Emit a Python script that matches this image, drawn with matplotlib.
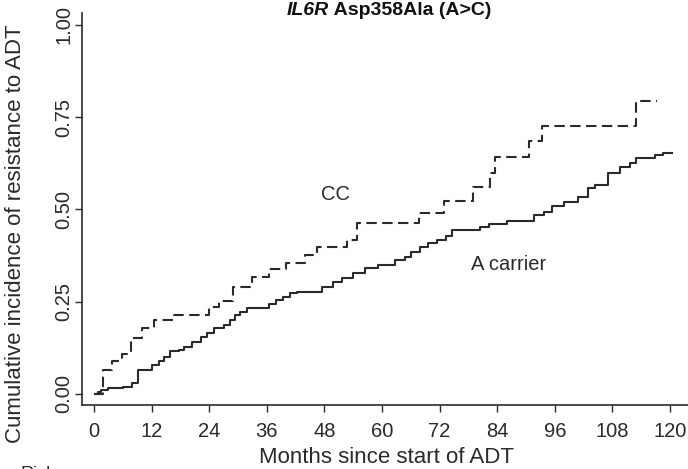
import matplotlib
matplotlib.use("Agg")
import matplotlib.pyplot as plt

# Cumulative incidence of resistance to ADT by IL6R Asp358Ala genotype
cc_months = [0, 1.9, 3.8, 5.8, 7.7, 10.0, 12.5, 16.5, 24.0, 26.0, 29.0, 33.0,
             36.5, 40.0, 44.0, 46.5, 52.7, 54.8, 67.7, 73.0, 79.0, 82.5, 83.5,
             90.6, 93.3, 113.0, 117.3]
cc_values = [0, 0.065, 0.089, 0.108, 0.152, 0.180, 0.200, 0.214, 0.235, 0.252,
             0.290, 0.317, 0.339, 0.355, 0.376, 0.398, 0.417, 0.463, 0.490,
             0.523, 0.560, 0.600, 0.642, 0.686, 0.726, 0.794, 0.794]

ac_months = [0.2, 0.8, 1.5, 3, 6, 8, 9.2, 12, 13.5, 14.5, 15.8, 17.7, 18.8,
             20.5, 22.3, 23.6, 25, 27, 28.4, 29.4, 30.5, 31.8, 36.5, 38, 39.4,
             40.8, 42.2, 47.5, 49.7, 51.7, 54, 56.5, 59.2, 62.7, 64.8, 66, 68,
             69.5, 71.5, 73.3, 74.6, 80.5, 82.3, 86, 91.7, 93.8, 95.5, 98,
             100.8, 102.9, 104.3, 107, 109.6, 111.7, 113, 116.9, 118.6, 120.4]
ac_values = [0, 0.006, 0.011, 0.015, 0.02, 0.03, 0.065, 0.079, 0.088, 0.10,
             0.115, 0.12, 0.128, 0.142, 0.154, 0.164, 0.178, 0.187, 0.2, 0.214,
             0.223, 0.232, 0.244, 0.255, 0.264, 0.273, 0.277, 0.291, 0.302,
             0.313, 0.327, 0.341, 0.35, 0.363, 0.372, 0.386, 0.399, 0.408,
             0.417, 0.428, 0.444, 0.452, 0.461, 0.47, 0.485, 0.494, 0.508,
             0.521, 0.535, 0.557, 0.566, 0.598, 0.614, 0.625, 0.639, 0.648,
             0.654, 0.654]

x_ticks = list(range(0, 121, 12))
y_ticks = [0.0, 0.25, 0.5, 0.75, 1.0]
y_tick_labels = ["0.00", "0.25", "0.50", "0.75", "1.00"]

plt.rcParams["font.family"] = ["Liberation Sans", "DejaVu Sans"]
ink = "#2a2a2a"

fig = plt.figure(figsize=(6.88, 4.69), dpi=100)
ax = fig.add_axes([0.1192, 0.1365, 0.8808, 0.8358])

ax.step(cc_months, cc_values, where="post", color=ink, lw=1.5,
        dashes=(5, 2.6))
ax.step(ac_months, ac_values, where="post", color=ink, lw=1.5)

ax.text(50.3, 0.54, "CC", fontsize=14.5, color=ink, ha="center", va="center")
ax.text(86.3, 0.35, "A carrier", fontsize=14.5, color=ink, ha="center", va="center")

ax.set_xlim(-2.5, 123.75)
ax.set_ylim(-0.03, 1.0325)
ax.set_xticks(x_ticks)
ax.set_yticks(y_ticks)
ax.set_yticklabels(y_tick_labels, rotation=90, va="center")
ax.tick_params(axis="both", length=5, width=1, color=ink, labelcolor=ink,
               labelsize=14.5)
ax.tick_params(axis="x", pad=7)
ax.tick_params(axis="y", pad=1)
for side in ("top", "right"):
    ax.spines[side].set_visible(False)
for side in ("left", "bottom"):
    ax.spines[side].set_color(ink)
    ax.spines[side].set_linewidth(1.2)

ax.set_xlabel("Months since start of ADT", fontsize=16, color=ink)
ax.xaxis.set_label_coords(0.502, -0.133)
ax.xaxis.label.set_va("center")
ax.set_ylabel("Cumulative incidence of resistance to ADT", fontsize=16,
              color=ink)
ax.yaxis.set_label_coords(-0.109, 0.436)
ax.yaxis.label.set_va("center")

# title: gene name in italics, rest upright
t1 = fig.text(0.478, 0.968, "IL6R", fontsize=14, fontweight="bold",
              fontstyle="italic", ha="right", va="baseline", color="#111")
ax.annotate(" Asp358Ala (A>C)", xy=(1, 0), xycoords=t1, fontsize=14,
            fontweight="bold", ha="left", va="bottom", color="#111",
            annotation_clip=False)

fig.text(0.03, -0.012, "Risk", fontsize=13, color=ink, va="center")

fig.savefig("out.png", dpi=100)
